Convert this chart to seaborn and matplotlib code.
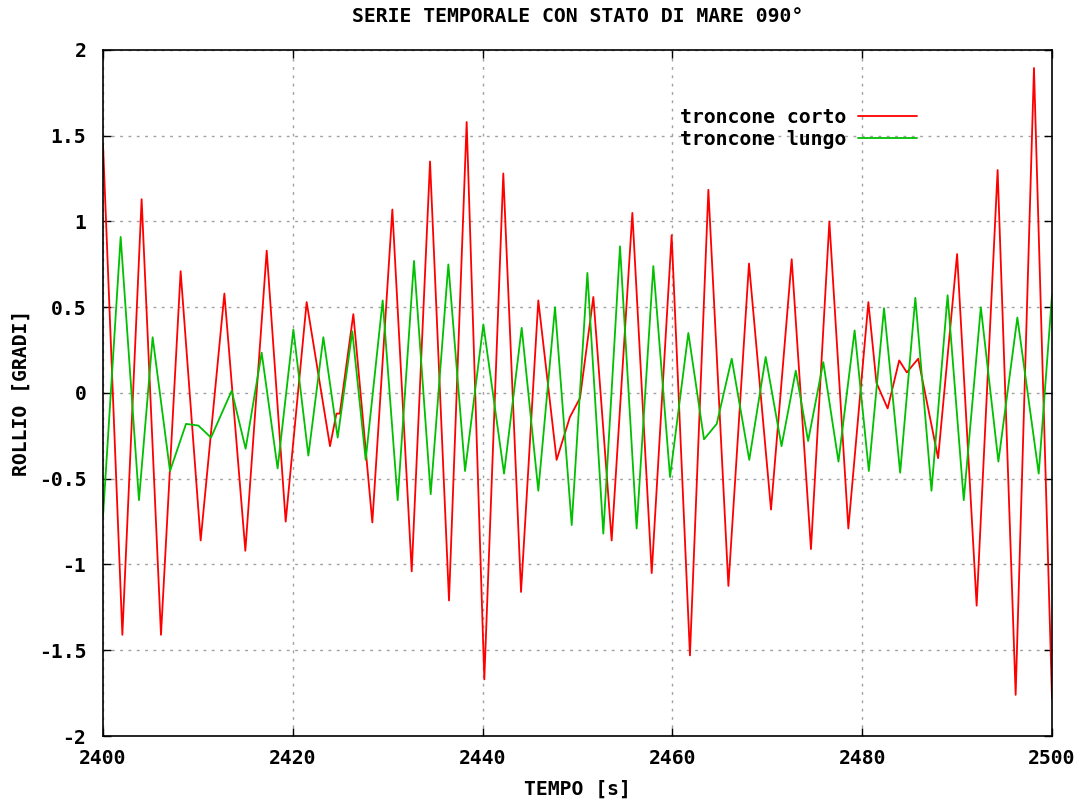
import numpy as np
import pandas as pd
import matplotlib
matplotlib.use("Agg")
import matplotlib.pyplot as plt
import seaborn as sns

# ---- data (extrema of each series) ----
corto_t = [2400.0, 2402.04, 2404.07, 2406.11, 2408.18, 2410.29, 2412.79, 2415.0,
           2417.25, 2419.25, 2421.46, 2423.92, 2424.6, 2424.95, 2426.38, 2428.38,
           2430.49, 2432.53, 2434.46, 2436.46, 2438.32, 2440.18, 2442.18, 2444.05,
           2445.87, 2447.8, 2449.2, 2450.26, 2451.67, 2453.6, 2455.78, 2457.82,
           2459.92, 2461.85, 2463.79, 2465.9, 2468.07, 2470.39, 2472.57, 2474.6,
           2476.54, 2478.54, 2480.65, 2481.5, 2482.68, 2483.9, 2484.7, 2485.9,
           2488.0, 2490.0, 2492.06, 2494.27, 2496.17, 2498.1, 2500.0]
corto_v = [1.45, -1.41, 1.13, -1.41, 0.71, -0.86, 0.58, -0.92,
           0.83, -0.75, 0.53, -0.31, -0.12, -0.12, 0.46, -0.755,
           1.07, -1.04, 1.35, -1.21, 1.58, -1.67, 1.28, -1.16,
           0.54, -0.39, -0.14, -0.03, 0.56, -0.86, 1.05, -1.05,
           0.92, -1.53, 1.185, -1.125, 0.755, -0.68, 0.78, -0.91,
           1.0, -0.79, 0.53, 0.06, -0.09, 0.19, 0.12, 0.20,
           -0.38, 0.81, -1.24, 1.30, -1.76, 1.895, -1.78]

lungo_t = [2400.0, 2401.86, 2403.79, 2405.23, 2407.06, 2408.75, 2410.05, 2411.38,
           2413.56, 2415.03, 2416.72, 2418.4, 2420.06, 2421.64, 2423.22, 2424.73,
           2426.27, 2427.68, 2429.47, 2431.05, 2432.77, 2434.53, 2436.39, 2438.15,
           2440.08, 2442.26, 2444.12, 2445.87, 2447.63, 2449.39, 2451.04, 2452.72,
           2454.48, 2456.23, 2457.99, 2459.75, 2461.68, 2463.33, 2464.67, 2466.25,
           2468.1, 2469.83, 2471.5, 2473.0, 2474.3, 2475.9, 2477.5, 2479.2,
           2480.7, 2482.3, 2484.0, 2485.6, 2487.3, 2489.0, 2490.7, 2492.5,
           2494.35, 2496.35, 2498.6, 2500.0]
lungo_v = [-0.72, 0.91, -0.625, 0.325, -0.455, -0.18, -0.19, -0.26,
           0.013, -0.325, 0.235, -0.44, 0.37, -0.365, 0.325, -0.26,
           0.36, -0.39, 0.54, -0.625, 0.77, -0.59, 0.75, -0.455,
           0.40, -0.47, 0.38, -0.57, 0.50, -0.77, 0.70, -0.82,
           0.855, -0.79, 0.74, -0.49, 0.35, -0.27, -0.18, 0.20,
           -0.39, 0.21, -0.31, 0.13, -0.28, 0.18, -0.40, 0.365,
           -0.455, 0.495, -0.465, 0.555, -0.57, 0.57, -0.625, 0.50,
           -0.40, 0.44, -0.47, 0.57]

series_names = ["troncone corto", "troncone lungo"]
series_colors = ["#ff0000", "#00c000"]

x_ticks = [2400, 2420, 2440, 2460, 2480, 2500]
x_ticklabels = ["2400", "2420", "2440", "2460", "2480", "2500"]
y_ticks = [-2, -1.5, -1, -0.5, 0, 0.5, 1, 1.5, 2]
y_ticklabels = ["-2", "-1.5", "-1", "-0.5", "0", "0.5", "1", "1.5", "2"]

title = "SERIE TEMPORALE CON STATO DI MARE 090°"
xlabel = "TEMPO [s]"
ylabel = "ROLLIO [GRADI]"

# ---- styling ----
sns.set_style("ticks")
plt.rcParams["font.family"] = ["DejaVu Sans Mono", "DejaVu Sans"]
plt.rcParams["font.weight"] = "bold"
for k in ["text.color", "axes.labelcolor", "xtick.color", "ytick.color"]:
    plt.rcParams[k] = "black"

FS = 14.2

df = pd.concat([
    pd.DataFrame({"t": corto_t, "v": corto_v, "serie": series_names[0]}),
    pd.DataFrame({"t": lungo_t, "v": lungo_v, "serie": series_names[1]}),
], ignore_index=True)

fig = plt.figure(figsize=(10.89, 8.05), dpi=100)
ax = fig.add_axes([103 / 1089, 1 - 736 / 805, (1052 - 103) / 1089, (736 - 50) / 805])

sns.lineplot(data=df, x="t", y="v", hue="serie", hue_order=series_names,
             palette=series_colors, estimator=None, sort=False,
             linewidth=1.3, ax=ax, legend=True)

ax.set_xlim(2400, 2500)
ax.set_ylim(-2, 2)
ax.set_xticks(x_ticks)
ax.set_xticklabels(x_ticklabels, fontsize=FS, fontweight="bold")
ax.set_yticks(y_ticks)
ax.set_yticklabels(y_ticklabels, fontsize=FS, fontweight="bold")
ax.tick_params(direction="in", length=6, width=1, top=True, right=True,
               labeltop=False, labelright=False, color="black")
ax.tick_params(axis="x", pad=9)
ax.tick_params(axis="y", pad=12)
for s in ax.spines.values():
    s.set_color("black")
    s.set_linewidth(1.2)

ax.grid(True, color="#a0a0a0", linestyle=(0, (2, 4)), linewidth=1.0)
ax.set_axisbelow(True)

ax.set_title(title, fontsize=FS, fontweight="bold", pad=20)
ax.set_xlabel(xlabel, fontsize=FS, fontweight="bold", labelpad=9)
ax.set_ylabel(ylabel, fontsize=FS, fontweight="bold", labelpad=6)

leg = ax.legend(loc="upper right", bbox_to_anchor=((917 - 103) / 949, 0.915),
                frameon=False, markerfirst=False, fontsize=FS,
                handlelength=3.0, handletextpad=0.6, labelspacing=0.12,
                borderpad=0, borderaxespad=0)
for txt in leg.get_texts():
    txt.set_fontweight("bold")

fig.savefig("out.png", dpi=100)
